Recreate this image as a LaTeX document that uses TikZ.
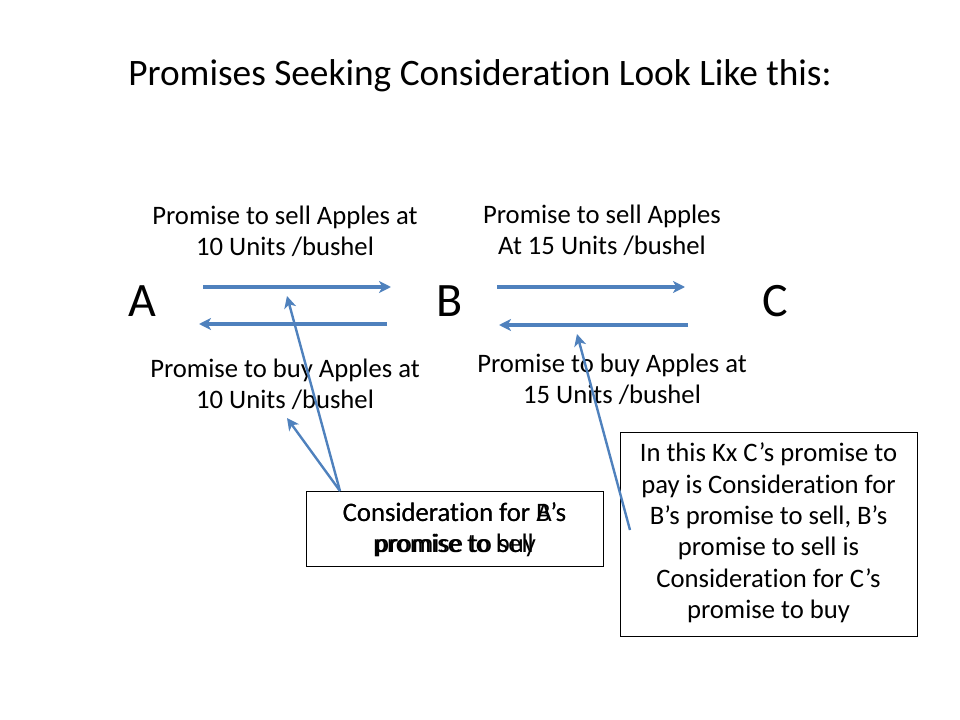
\documentclass[tikz,border=0pt]{standalone}
\usepackage{fontspec}
\setmainfont{Carlito}[Ligatures=NoCommon]
\usetikzlibrary{arrows.meta}
\definecolor{arrowblue}{RGB}{79,129,189}
\tikzset{
  lbl/.style={align=center, font=\fontsize{20}{23.2}\selectfont, inner sep=0pt},
  letter/.style={font=\fontsize{36}{40}\selectfont, inner sep=0pt},
  flow/.style={draw=arrowblue, line width=2.3pt, -{Stealth[length=9pt,width=9pt,inset=2.5pt]}},
  pointer/.style={draw=arrowblue, line width=1.8pt, -{Stealth[length=9pt,width=9pt,inset=2.5pt]}}
}
\begin{document}
\begin{tikzpicture}[x=0.75pt,y=-0.75pt]
\useasboundingbox (0,0) rectangle (960,720);
% title
\node[font=\fontsize{28}{32}\selectfont, inner sep=0pt] (title) at (480,76) {Promises Seeking Consideration Look Like this:};
% parties
\node[letter] (A) at (142,301) {A};
\node[letter] (B) at (450,301) {B};
\node[letter] (C) at (775,301) {C};
% labels
\node[lbl] (sellAB) at (285,231) {Promise to sell Apples at\\10 Units /bushel};
\node[lbl] (sellBC) at (602,230) {Promise to sell Apples\\At 15 Units /bushel};
\node[lbl] (buyAB) at (285,384) {Promise to buy Apples at\\10 Units /bushel};
\node[lbl] (buyBC) at (612,379) {Promise to buy Apples at\\15 Units /bushel};
% flow arrow end points
\coordinate (s1a) at (203,287); \coordinate (s1b) at (391,287);
\coordinate (b1a) at (387,324); \coordinate (b1b) at (199,324);
\coordinate (s2a) at (497,287); \coordinate (s2b) at (685,287);
\coordinate (b2a) at (688,325); \coordinate (b2b) at (499,325);
\draw[flow] (s1a) -- (s1b);
\draw[flow] (b1a) -- (b1b);
\draw[flow] (s2a) -- (s2b);
\draw[flow] (b2a) -- (b2b);
% boxes
\node[draw=black, line width=0.6pt, minimum width=297*0.75pt, minimum height=75*0.75pt, inner sep=0pt] (consbox) at (454.5,528.5) {};
\node[lbl] (consA) at (454.5,530) {Consideration for A’s\\promise to sell};
\node[lbl] (consB) at (454.5,530) {Consideration for B’s\\promise to buy};
\node[draw=black, line width=0.6pt, minimum width=297*0.75pt, minimum height=204*0.75pt, inner sep=0pt] (kxbox) at (768.5,534) {};
\node[lbl, font=\fontsize{20}{23.6}\selectfont] (kxtext) at (768.5,533) {In this Kx C’s promise to\\pay is Consideration for\\B’s promise to sell, B’s\\promise to sell is\\Consideration for C’s\\promise to buy};
% pointers
\coordinate (p1) at (340,491);
\coordinate (t1) at (287,296);
\coordinate (t2) at (287,418);
\coordinate (p2) at (630,530);
\coordinate (t3) at (577,334);
\draw[pointer] (p1) -- (t1);
\draw[pointer] (p1) -- (t2);
\draw[pointer] (p2) -- (t3);
\end{tikzpicture}
\end{document}
